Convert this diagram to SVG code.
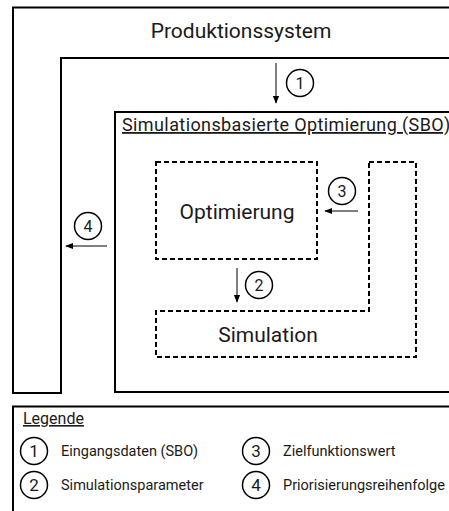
<svg xmlns="http://www.w3.org/2000/svg" width="449" height="511" viewBox="0 0 449 511">
<defs>
<style>
.frame{fill:none;stroke:#000;stroke-width:2}
.dash{fill:none;stroke:#000;stroke-width:2;stroke-dasharray:5 3}
.t{font-family:Roboto,"Liberation Sans",sans-serif;fill:#1a1a1a}
.num{font-family:Roboto,"Liberation Sans",sans-serif;font-size:16px;text-anchor:middle;fill:#1a1a1a}
.lnum{font-family:Roboto,"Liberation Sans",sans-serif;font-size:17px;text-anchor:middle;fill:#1a1a1a}
.circ{fill:none;stroke:#000;stroke-width:1.5}
.conn{stroke:#000;stroke-width:1;fill:none;marker-end:url(#ah)}
</style>
<marker id="ah" viewBox="0 0 10 10" refX="9" refY="5" markerWidth="8" markerHeight="8" markerUnits="userSpaceOnUse" orient="auto">
<path d="M0,1 L10,5 L0,9 z" fill="#000"/>
</marker>
</defs>
<rect width="449" height="511" fill="#fff"/>
<g id="produktionssystem">
<path class="frame" d="M460,7.5 L13,7.5 L13,393 L61,393 L61,58 L460,58"/>
<text class="t" x="241" y="38" font-size="21" text-anchor="middle">Produktionssystem</text>
</g>
<g id="sbo">
<path class="frame" d="M460,112 L115,112 L115,392 L460,392"/>
<text class="t" x="122" y="131" font-size="18" letter-spacing="0.4" text-decoration="underline">Simulationsbasierte Optimierung (SBO)</text>
</g>
<g id="optimierung">
<rect class="dash" x="156" y="162" width="161" height="97"/>
<text class="t" x="237" y="219" font-size="21" text-anchor="middle">Optimierung</text>
</g>
<g id="simulation">
<path class="dash" d="M369,162 L416,162 L416,357 L156,357 L156,311 L369,311 Z"/>
<text class="t" x="268" y="342" font-size="21" text-anchor="middle">Simulation</text>
</g>
<g id="connectors">
<line class="conn" x1="276" y1="63" x2="276" y2="103"/>
<line class="conn" x1="237" y1="268" x2="237" y2="302"/>
<line class="conn" x1="358" y1="211" x2="325" y2="211"/>
<line class="conn" x1="107" y1="246" x2="66" y2="246"/>
</g>
<g id="label1"><circle class="circ" cx="300" cy="83" r="13.5"/><text class="num" x="300" y="89">1</text></g>
<g id="label2"><circle class="circ" cx="259" cy="285" r="13.5"/><text class="num" x="259" y="291">2</text></g>
<g id="label3"><circle class="circ" cx="342" cy="191" r="13.5"/><text class="num" x="342" y="197">3</text></g>
<g id="label4"><circle class="circ" cx="88" cy="226" r="13.5"/><text class="num" x="88" y="232">4</text></g>
<g id="legende">
<path class="frame" d="M460,406.5 L13,406.5 L13,520"/>
<text class="t" x="23" y="424" font-size="16" text-decoration="underline">Legende</text>
<circle class="circ" cx="34" cy="451" r="13.5"/><text class="lnum" x="34" y="457">1</text>
<text class="t" x="61" y="456" font-size="14.5">Eingangsdaten (SBO)</text>
<circle class="circ" cx="34" cy="485" r="13.5"/><text class="lnum" x="34" y="491">2</text>
<text class="t" x="61" y="490" font-size="14.5">Simulationsparameter</text>
<circle class="circ" cx="256" cy="451" r="13.5"/><text class="lnum" x="256" y="457">3</text>
<text class="t" x="283" y="456" font-size="14.5">Zielfunktionswert</text>
<circle class="circ" cx="256" cy="485" r="13.5"/><text class="lnum" x="256" y="491">4</text>
<text class="t" x="283" y="490" font-size="14.5">Priorisierungsreihenfolge</text>
</g>
</svg>
